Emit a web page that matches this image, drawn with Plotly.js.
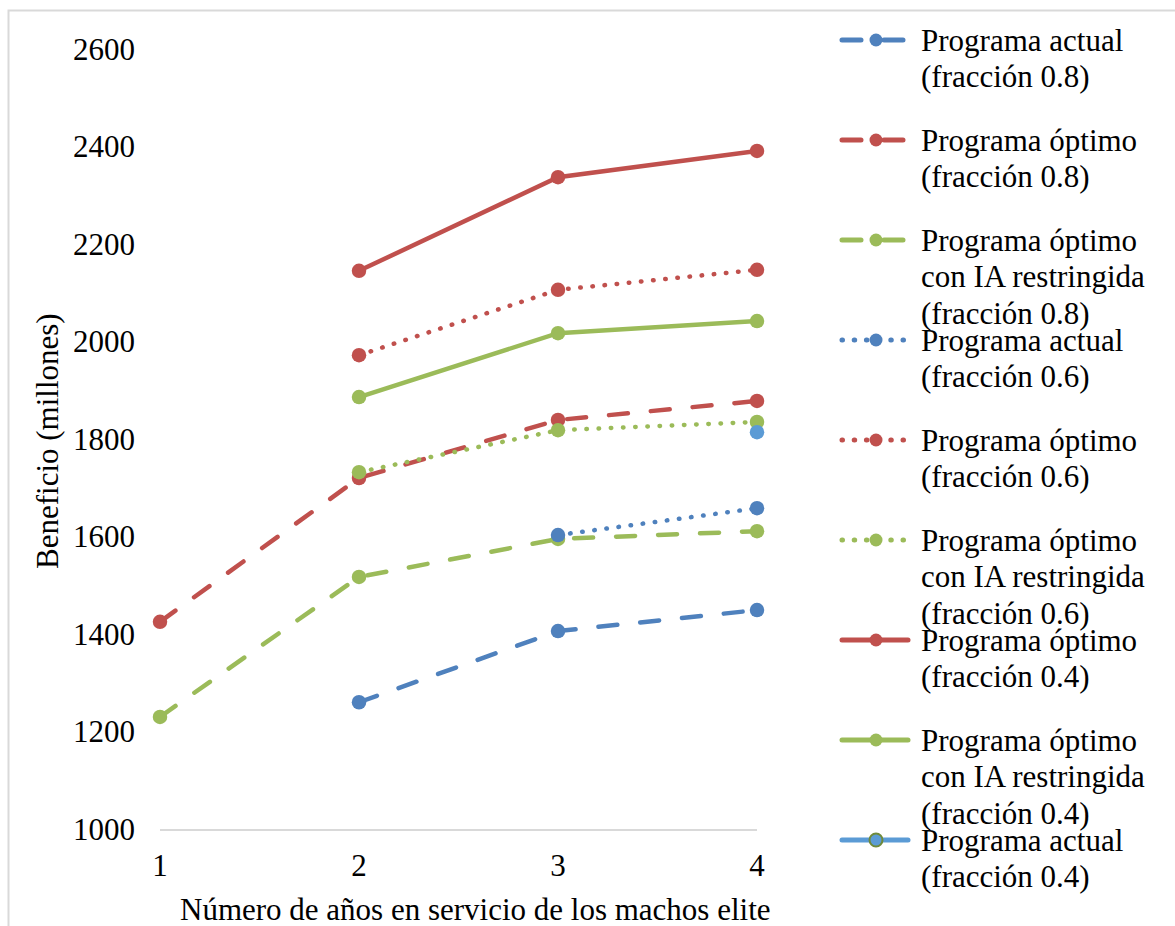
<!DOCTYPE html>
<html>
<head>
<meta charset="utf-8">
<script src="https://cdn.plot.ly/plotly-3.0.1.min.js"></script>
<style>
  html, body { margin: 0; padding: 0; background: #ffffff; }
  #chart { width: 1175px; height: 926px; }
  /* rounded line ends, so dotted series draw round dots */
  #chart .scatterlayer .js-line { stroke-linecap: round; }
</style>
</head>
<body>
<div id="chart"></div>
<script>
// Años en servicio de los machos elite (eje de categorías)
const years = [1, 2, 3, 4];

// Beneficio (millones) por programa y fracción
const actual08   = [null, 1260, 1406, 1449];
const optimo08   = [1425, 1720, 1839, 1878];
const optimoIA08 = [1230, 1517, 1595, 1611];
const actual06   = [null, null, 1603, 1658];
const optimo06   = [null, 1972, 2106, 2147];
const optimoIA06 = [null, 1732, 1818, 1835];
const optimo04   = [null, 2145, 2337, 2391];
const optimoIA04 = [null, 1886, 2017, 2042];
const actual04   = [null, null, null, 1814];

const seriesNames = [
  'Programa actual<br>(fracción 0.8)',
  'Programa óptimo<br>(fracción 0.8)',
  'Programa óptimo<br>con IA restringida<br>(fracción 0.8)',
  'Programa actual<br>(fracción 0.6)',
  'Programa óptimo<br>(fracción 0.6)',
  'Programa óptimo<br>con IA restringida<br>(fracción 0.6)',
  'Programa óptimo<br>(fracción 0.4)',
  'Programa óptimo<br>con IA restringida<br>(fracción 0.4)',
  'Programa actual<br>(fracción 0.4)'
];
const seriesValues = [actual08, optimo08, optimoIA08, actual06, optimo06,
                      optimoIA06, optimo04, optimoIA04, actual04];

const yTicks = [1000, 1200, 1400, 1600, 1800, 2000, 2200, 2400, 2600];
const xTitle = 'Número de años en servicio de los machos elite';
const yTitle = 'Beneficio (millones)';

// Estilos de las series
const BLUE = '#4f81bd', RED = '#c0504d', GREEN = '#9bbb59', LIGHTBLUE = '#5b9bd5';
const DASH = '19px,23px', DOT = '0.5px,11.7px';
const seriesColors = [BLUE, RED, GREEN, BLUE, RED, GREEN, RED, GREEN, LIGHTBLUE];
const seriesDash   = [DASH, DASH, DASH, DOT, DOT, DOT, 'solid', 'solid', 'solid'];
const markerOutline = [null, null, null, null, null, null, null, null, '#6f8a3a'];

const FONT = 'Liberation Serif, Times New Roman, serif';
const W = 1175, H = 926;
// plot area in pixels
const PL = 160, PR = 757, PT = 49, PB = 829;

const traces = [];
seriesValues.forEach((vals, i) => {
  traces.push({
    type: 'scatter', mode: 'lines+markers',
    x: years, y: vals,
    name: seriesNames[i],
    xaxis: 'x', yaxis: 'y',
    cliponaxis: false,
    showlegend: false,
    line: { color: seriesColors[i], width: 4.5, dash: seriesDash[i] },
    marker: { color: seriesColors[i], size: 14.5, symbol: 'circle' }
  });
});

// Leyenda dibujada sobre un eje auxiliar en coordenadas de píxel
const LEG_X0 = 842, LEG_X1 = 908, LEG_MX = 876, LEG_TX = 920;
const LEG_Y0 = 40, LEG_STEP = 100, LINE_STEP = 36.5;
const annotations = [];
seriesNames.forEach((name, i) => {
  const y = LEG_Y0 + i * LEG_STEP;
  traces.push({
    type: 'scatter', mode: 'lines', x: [LEG_X0, LEG_X1], y: [y, y],
    xaxis: 'x2', yaxis: 'y2', showlegend: false, hoverinfo: 'skip',
    line: { color: seriesColors[i], width: 5, dash: seriesDash[i] }
  });
  traces.push({
    type: 'scatter', mode: 'markers', x: [LEG_MX], y: [y],
    xaxis: 'x2', yaxis: 'y2', showlegend: false, hoverinfo: 'skip',
    marker: {
      color: seriesColors[i], size: 13,
      line: markerOutline[i] ? { color: markerOutline[i], width: 2 } : { width: 0 }
    }
  });
  name.split('<br>').forEach((ln, k) => {
    annotations.push({
      xref: 'x2', yref: 'y2', x: LEG_TX, y: y + k * LINE_STEP,
      xanchor: 'left', yanchor: 'middle', showarrow: false, text: ln, borderpad: 0,
      font: { family: FONT, size: 31, color: '#000' }
    });
  });
});

annotations.push({
  xref: 'x2', yref: 'y2', x: 475, y: 909, xanchor: 'center', yanchor: 'middle',
  showarrow: false, text: xTitle, borderpad: 0,
  font: { family: FONT, size: 31, color: '#000' }
});
annotations.push({
  xref: 'x2', yref: 'y2', x: 47, y: 441, xanchor: 'center', yanchor: 'middle',
  showarrow: false, text: yTitle, textangle: -90, borderpad: 0,
  font: { family: FONT, size: 31, color: '#000' }
});

const layout = {
  width: W, height: H, autosize: false,
  margin: { l: 0, r: 0, t: 0, b: 0, pad: 0 },
  paper_bgcolor: '#ffffff', plot_bgcolor: 'rgba(0,0,0,0)',
  showlegend: false, hovermode: false,
  font: { family: FONT, size: 31, color: '#000' },
  xaxis: {
    domain: [PL / W, PR / W], anchor: 'y',
    range: [1, 4], tickvals: years, ticktext: years.map(String),
    showgrid: false, zeroline: false,
    showline: true, linecolor: '#d9d9d9', linewidth: 2,
    ticks: '', ticklabelstandoff: 8,
    tickfont: { family: FONT, size: 31, color: '#000' }
  },
  yaxis: {
    domain: [1 - PB / H, 1 - PT / H], anchor: 'x',
    range: [1000, 2600], tickvals: yTicks, ticktext: yTicks.map(String),
    showgrid: false, zeroline: false, showline: false,
    ticks: '', ticklabelstandoff: 24,
    tickfont: { family: FONT, size: 31, color: '#000' }
  },
  xaxis2: { domain: [0, 1], anchor: 'y2', range: [0, W], visible: false, fixedrange: true },
  yaxis2: { domain: [0, 1], anchor: 'x2', range: [H, 0], visible: false, fixedrange: true },
  shapes: [{
    type: 'rect', xref: 'paper', yref: 'paper',
    x0: 8.5 / W, x1: 1.05, y0: -0.05, y1: 1 - 10.5 / H,
    line: { color: '#d9d9d9', width: 2 }, fillcolor: 'rgba(0,0,0,0)', layer: 'below'
  }],
  annotations: annotations
};

Plotly.newPlot('chart', traces, layout, { staticPlot: true, displayModeBar: false });
</script>
</body>
</html>
